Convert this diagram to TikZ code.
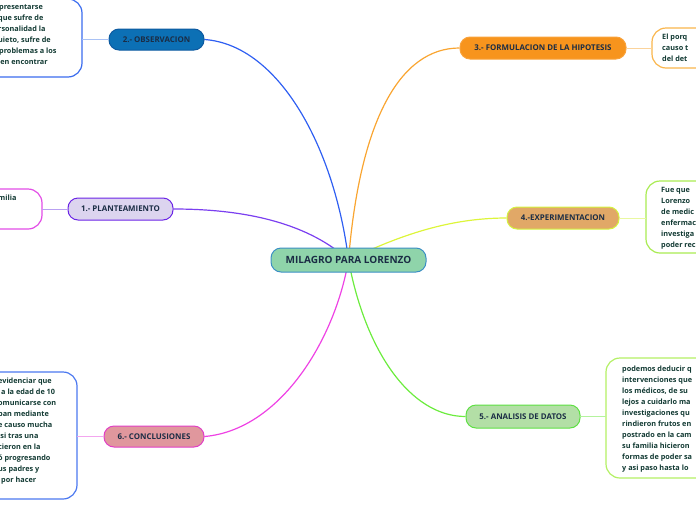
\documentclass[tikz,border=0pt]{standalone}
\usepackage{fontspec}
\setmainfont{Open Sans}
\usetikzlibrary{backgrounds}
\definecolor{notetext}{HTML}{123A33}
\definecolor{topictext}{HTML}{1B2D45}
\definecolor{hubfill}{HTML}{8FD4AA}   \definecolor{hubedge}{HTML}{3B8FC4}
\definecolor{obsfill}{HTML}{0C70B5}   \definecolor{obsedge}{HTML}{0D5AA0}
\definecolor{obsline}{HTML}{2F5FF2}   \definecolor{obsshort}{HTML}{A9C2F5} \definecolor{obsnote}{HTML}{3A6CEE}
\definecolor{formfill}{HTML}{F7941D}  \definecolor{formedge}{HTML}{F9A23A}
\definecolor{formline}{HTML}{F9A531}  \definecolor{formshort}{HTML}{FBD39B} \definecolor{formnote}{HTML}{F9B54C}
\definecolor{plantfill}{HTML}{DCD4EF} \definecolor{plantedge}{HTML}{6B24E6}
\definecolor{plantline}{HTML}{7B3FF0} \definecolor{plantshort}{HTML}{B9A0F2} \definecolor{plantnote}{HTML}{E24DE6}
\definecolor{expfill}{HTML}{E1A867}   \definecolor{expedge}{HTML}{D4F33E}
\definecolor{expline}{HTML}{DDF53A}   \definecolor{expshort}{HTML}{E9F8A0} \definecolor{expnote}{HTML}{A9EB52}
\definecolor{analfill}{HTML}{B3DFA6}  \definecolor{analedge}{HTML}{5EE043}
\definecolor{analline}{HTML}{6CEC3E}  \definecolor{analshort}{HTML}{B4F39D} \definecolor{analnote}{HTML}{B3F064}
\definecolor{conclfill}{HTML}{E0979D} \definecolor{concledge}{HTML}{E03FC6}
\definecolor{conclline}{HTML}{EE42E4} \definecolor{conclshort}{HTML}{F3A6EF} \definecolor{conclnote}{HTML}{4B78F0}
\begin{document}
\begin{tikzpicture}[x=1pt, y=-1pt, line join=round, line cap=round,
	topic/.style={draw, rounded corners=10pt, line width=1pt, inner sep=0pt, text=topictext,
		font=\bfseries\fontsize{7.9}{9}\selectfont},
	note/.style={draw, rounded corners=14pt, line width=1.2pt, inner sep=0pt},
	txt/.style={anchor=base west, inner sep=0pt, text=notetext, font=\bfseries\fontsize{7.3}{9}\selectfont},
	branch/.style={line width=1.2pt},
	short/.style={line width=1pt}]
	\useasboundingbox (0,0) rectangle (696,520);
	\clip (0,0) rectangle (696,520);
	% central topic and main topics
	\node[topic, draw=hubedge, fill=hubfill, text=topictext, minimum width=155pt, minimum height=24pt,
		font=\bfseries\fontsize{10}{11}\selectfont] (hub) at (348.5,260) {MILAGRO PARA LORENZO};
	\node[topic, draw=obsedge, fill=obsfill, minimum width=95pt, minimum height=21pt] (obs) at (156.5,39.5) {2.- OBSERVACION};
	\node[topic, draw=formedge, fill=formfill, minimum width=166pt, minimum height=22pt] (form) at (543,48) {3.- FORMULACION DE LA HIPOTESIS};
	\node[topic, draw=plantedge, fill=plantfill, minimum width=105pt, minimum height=22pt] (plant) at (120.5,209) {1.- PLANTEAMIENTO};
	\node[topic, draw=expedge, fill=expfill, minimum width=112pt, minimum height=22pt] (exp) at (563,218) {4.-EXPERIMENTACION};
	\node[topic, draw=analedge, fill=analfill, minimum width=114pt, minimum height=23pt] (anal) at (523,416.5) {5.- ANALISIS DE DATOS};
	\node[topic, draw=concledge, fill=conclfill, minimum width=100pt, minimum height=21pt] (concl) at (154,436.5) {6.- CONCLUSIONES};
	% note boxes, cut by the page edge
	\node[note, draw=obsnote, minimum width=142pt, minimum height=78pt] (obsbox) at (11,38) {};
	\node[note, draw=formnote, minimum width=108pt, minimum height=40pt] (formbox) at (706,48) {};
	\node[note, draw=plantnote, minimum width=102pt, minimum height=40pt] (plantbox) at (-9,209) {};
	\node[note, draw=expnote, minimum width=114pt, minimum height=72pt] (expbox) at (703,217) {};
	\node[note, draw=analnote, minimum width=154pt, minimum height=120pt] (analbox) at (683,418) {};
	\node[note, draw=conclnote, minimum width=137pt, minimum height=127pt] (conclbox) at (8.5,435.5) {};
	% note texts
	\foreach \t [count=\i from 0] in {\hspace*{1pt}presentarse, que sufre de, rsonalidad la, {uieto, sufre de}, \hspace*{1pt}problemas a los, ien encontrar}
		{\node[txt] (obs-\i) at (-2,9.5+11*\i) {\t};}
	\foreach \t [count=\i from 0] in {El porq, causo t, del det}
		{\node[txt] (form-\i) at (662,39.5+11*\i) {\t};}
	\node[txt] (plant-0) at (-2,200.5) {milia};
	\foreach \t [count=\i from 0] in {Fue que , Lorenzo , de medic, enfermac, investiga, poder rec}
		{\node[txt] (exp-\i) at (661,192.5+11*\i) {\t};}
	\foreach \t [count=\i from 0] in {podemos deducir q, intervenciones que, {los médicos, de su}, lejos a cuidarlo ma, investigaciones qu, rindieron frutos en, postrado en la cam, su familia hicieron, formas de poder sa, y asi paso hasta lo}
		{\node[txt] (anal-\i) at (622,371.5+11*\i) {\t};}
	\foreach \t [count=\i from 0] in {evidenciar que, \hspace*{3pt}a la edad de 10, omunicarse con, ban mediante, e causo mucha, isi tras una, cieron en la, ó progresando, us padres y, \hspace*{3pt}por hacer}
		{\node[txt] (concl-\i) at (-2,383.5+11*\i) {\t};}
	% connectors
	\begin{scope}[on background layer]
		\draw[branch, obsline] (obs.east) .. controls (280,45) and (335,150) .. (hub.center);
		\draw[branch, formline] (hub.center) .. controls (360,120) and (400,48) .. (form.west);
		\draw[branch, plantline] (plant.east) .. controls (250,209) and (310,225) .. (hub.center);
		\draw[branch, expline] (hub.center) .. controls (400,235) and (450,218) .. (exp.west);
		\draw[branch, analline] (hub.center) .. controls (365,350) and (410,416.5) .. (anal.west);
		\draw[branch, conclline] (concl.east) .. controls (280,430) and (335,340) .. (hub.center);
	\end{scope}
	\draw[short, obsshort] (obs.west) -- (obs.west -| obsbox.east);
	\draw[short, formshort] (form.east) -- (form.east -| formbox.west);
	\draw[short, plantshort] (plant.west) -- (plant.west -| plantbox.east);
	\draw[short, expshort] (exp.east) -- (exp.east -| expbox.west);
	\draw[short, analshort] (anal.east) -- (anal.east -| analbox.west);
	\draw[short, conclshort] (concl.west) -- (concl.west -| conclbox.east);
\end{tikzpicture}
\end{document}
